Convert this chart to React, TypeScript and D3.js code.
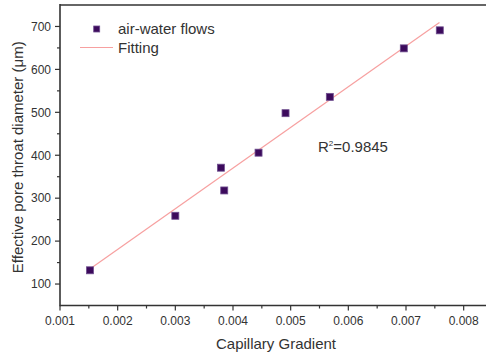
import React from "react";
import * as d3 from "d3";

const capillaryGradient = [0.00152, 0.003, 0.003848, 0.00379, 0.004443, 0.004911, 0.005679, 0.006962, 0.007586];
const poreDiameter = [132, 259, 318, 371, 406, 498, 536, 649, 691];
const fitX = [0.00153, 0.00758];
const fitY = [136, 709];
const xTicks = [0.001, 0.002, 0.003, 0.004, 0.005, 0.006, 0.007, 0.008];
const xMinorTicks = [0.0015, 0.0025, 0.0035, 0.0045, 0.0055, 0.0065, 0.0075];
const yTicks = [100, 200, 300, 400, 500, 600, 700];
const yMinorTicks = [150, 250, 350, 450, 550, 650];
const seriesLabel = "air-water flows";
const fitLabel = "Fitting";
const r2Label = "0.9845";

const W = 486;
const H = 358;
const left = 60;
const right = 492.5;
const top = 5;
const bottom = 305.5;

export default function App() {
  const x = d3.scaleLinear().domain([0.001, 0.0085]).range([left, right]);
  const y = d3.scaleLinear().domain([50, 750]).range([bottom, top]);
  const line = d3.line<number>().x((_, i) => x(fitX[i])).y((d) => y(d));
  const axisColor = "#333";
  const textColor = "#333";
  const font = "'Liberation Sans', Arial, sans-serif";
  const ms = 7;
  return (
    <svg
      width={W}
      height={H}
      style={{ position: "absolute", left: 0, top: 0, background: "#fff" }}
      fontFamily={font}
    >
      <rect x={0} y={0} width={W} height={H} fill="#fff" />
      <line x1={left} x2={right} y1={top} y2={top} stroke="#666" strokeWidth={1.8} />
      <line x1={right} x2={right} y1={top} y2={bottom} stroke="#666" strokeWidth={1.8} />
      <path d={line(fitY) || ""} fill="none" stroke="#f7a0a0" strokeWidth={1.2} />
      {capillaryGradient.map((cx, i) => (
        <rect
          key={i}
          x={x(cx) - ms / 2}
          y={y(poreDiameter[i]) - ms / 2}
          width={ms}
          height={ms}
          fill="#3c0a5c"
          stroke="#6f4f8f"
          strokeWidth={0.8}
        />
      ))}
      <line x1={left} x2={right} y1={bottom} y2={bottom} stroke={axisColor} strokeWidth={1.6} />
      <line x1={left} x2={left} y1={top - 1} y2={bottom + 0.8} stroke={axisColor} strokeWidth={1.6} />
      {xTicks.map((t) => (
        <g key={t}>
          <line x1={x(t)} x2={x(t)} y1={bottom} y2={bottom + 5} stroke={axisColor} strokeWidth={1.2} />
          <text x={x(t)} y={325} textAnchor="middle" fontSize={12} fill={textColor}>
            {d3.format(".3f")(t)}
          </text>
        </g>
      ))}
      {xMinorTicks.map((t) => (
        <line key={t} x1={x(t)} x2={x(t)} y1={bottom} y2={bottom + 3} stroke={axisColor} strokeWidth={1.2} />
      ))}
      {yTicks.map((t) => (
        <g key={t}>
          <line x1={left - 5} x2={left} y1={y(t)} y2={y(t)} stroke={axisColor} strokeWidth={1.2} />
          <text x={51} y={y(t) + 4.3} textAnchor="end" fontSize={12} fill={textColor}>
            {t}
          </text>
        </g>
      ))}
      {yMinorTicks.map((t) => (
        <line key={t} x1={left - 3} x2={left} y1={y(t)} y2={y(t)} stroke={axisColor} strokeWidth={1.2} />
      ))}
      <text x={276} y={349} textAnchor="middle" fontSize={15} fill={textColor}>
        Capillary Gradient
      </text>
      <text
        transform={`translate(23,${(top + bottom) / 2 + 2}) rotate(-90)`}
        textAnchor="middle"
        fontSize={15}
        fill={textColor}
      >
        Effective pore throat diameter (μm)
      </text>
      <rect x={96.7 - 3} y={29 - 3} width={6} height={6} fill="#3c0a5c" stroke="#6f4f8f" strokeWidth={0.8} />
      <text x={118} y={34} fontSize={15} fill={textColor}>
        {seriesLabel}
      </text>
      <line x1={80} x2={113} y1={47.5} y2={47.5} stroke="#f7a0a0" strokeWidth={1.2} />
      <text x={118} y={52.5} fontSize={15} fill={textColor}>
        {fitLabel}
      </text>
      <text x={318} y={152} fontSize={15} fill={textColor}>
        R<tspan dy={-6} fontSize={8}>2</tspan>
        <tspan dy={6}>={r2Label}</tspan>
      </text>
    </svg>
  );
}
